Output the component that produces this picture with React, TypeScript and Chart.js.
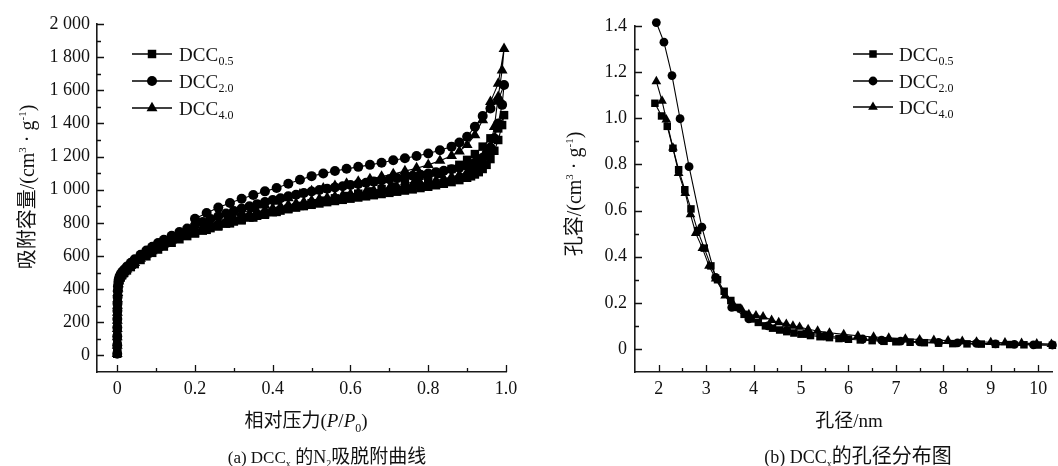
import React, { useEffect, useRef } from 'react';
import { Chart, registerables } from 'chart.js';

Chart.register(...registerables);

const FONT = '"Liberation Serif", "Noto Sans CJK SC", serif';

// ---------------- (a) N2 adsorption / desorption isotherms ----------------
const P_ADS = [0, 0.00005, 0.0001, 0.0002, 0.0003, 0.0005, 0.0007, 0.001, 0.0015, 0.002,
  0.003, 0.004, 0.006, 0.009, 0.013, 0.018, 0.025, 0.035, 0.045, 0.06,
  0.075, 0.09, 0.105, 0.12, 0.14, 0.16, 0.18, 0.2, 0.22, 0.24,
  0.26, 0.28, 0.3, 0.32, 0.34, 0.36, 0.38, 0.4, 0.42, 0.44,
  0.46, 0.48, 0.5, 0.52, 0.54, 0.56, 0.58, 0.6, 0.62, 0.64,
  0.66, 0.68, 0.7, 0.72, 0.74, 0.76, 0.78, 0.8, 0.82, 0.84,
  0.86, 0.88, 0.9, 0.91, 0.92, 0.93, 0.94, 0.95, 0.96, 0.97,
  0.98, 0.99, 0.995];
const ADS_05 = [10, 55, 100, 150, 200, 250, 295, 335, 372, 400,
  425, 442, 458, 472, 485, 498, 513, 533, 551, 576,
  598, 619, 639, 657, 680, 701, 720, 737, 753, 768,
  782, 795, 808, 820, 832, 843, 854, 864, 874, 883,
  892, 901, 909, 917, 925, 932, 939, 946, 953, 960,
  967, 974, 981, 988, 995, 1002, 1010, 1018, 1027, 1036,
  1046, 1058, 1072, 1081, 1092, 1106, 1125, 1150, 1185, 1235,
  1300, 1390, 1450];
const ADS_20 = [10, 62, 115, 168, 220, 270, 312, 352, 390, 418,
  443, 460, 476, 491, 505, 519, 536, 559, 580, 608,
  633, 656, 678, 698, 722, 745, 766, 786, 805, 823,
  840, 856, 871, 886, 900, 913, 926, 938, 949, 960,
  970, 980, 989, 998, 1006, 1014, 1021, 1028, 1035, 1042,
  1049, 1056, 1063, 1070, 1077, 1084, 1091, 1098, 1106, 1114,
  1123, 1133, 1145, 1153, 1163, 1176, 1193, 1218, 1255, 1310,
  1400, 1512, 1632];
const ADS_40 = [10, 60, 110, 160, 210, 258, 300, 340, 378, 405,
  430, 447, 463, 477, 490, 503, 519, 540, 559, 585,
  608, 630, 650, 670, 694, 716, 736, 754, 771, 787,
  802, 816, 829, 842, 854, 866, 877, 888, 898, 908,
  917, 926, 935, 943, 951, 959, 967, 974, 981, 988,
  995, 1002, 1009, 1016, 1023, 1031, 1039, 1047, 1056, 1066,
  1077, 1090, 1106, 1116, 1128, 1143, 1163, 1195, 1260, 1380,
  1560, 1720, 1850];
const P_DES = [0.98, 0.96, 0.94, 0.92, 0.9, 0.88, 0.86, 0.83, 0.8, 0.77,
  0.74, 0.71, 0.68, 0.65, 0.62, 0.59, 0.56, 0.53, 0.5, 0.47,
  0.44, 0.41, 0.38, 0.35, 0.32, 0.29, 0.26, 0.23, 0.2];
const DES_05 = [1370, 1310, 1260, 1215, 1180, 1150, 1125, 1095, 1072, 1052,
  1035, 1019, 1004, 990, 976, 962, 948, 934, 919, 902,
  884, 866, 849, 832, 815, 797, 778, 758, 737];
const DES_20 = [1540, 1490, 1445, 1380, 1320, 1285, 1260, 1238, 1218, 1203,
  1190, 1178, 1163, 1150, 1138, 1126, 1113, 1098, 1082, 1060,
  1036, 1010, 990, 968, 945, 920, 892, 860, 825];
const DES_40 = [1640, 1530, 1420, 1330, 1270, 1232, 1205, 1175, 1150, 1130,
  1112, 1095, 1080, 1065, 1050, 1037, 1023, 1008, 992, 972,
  950, 928, 906, 884, 860, 834, 808, 782, 756];
const ISO_X_TICKS = [0, 0.2, 0.4, 0.6, 0.8, 1.0];
const ISO_Y_TICKS = [0, 200, 400, 600, 800, 1000, 1200, 1400, 1600, 1800, 2000];

// ---------------- (b) pore size distribution ----------------
const PSD05_X = [1.92, 2.06, 2.18, 2.30, 2.42, 2.55, 2.68, 2.82, 2.96, 3.10,
  3.24, 3.38, 3.52, 3.66, 3.80, 3.95, 4.10, 4.25, 4.40, 4.55,
  4.70, 4.85, 5.00, 5.20, 5.40, 5.60, 5.80, 6.00, 6.25, 6.50,
  6.75, 7.00, 7.30, 7.60, 7.90, 8.20, 8.50, 8.80, 9.10, 9.40,
  9.70, 10.00, 10.30];
const PSD05_Y = [1.065, 1.01, 0.965, 0.87, 0.777, 0.69, 0.607, 0.513, 0.437, 0.36,
  0.30, 0.25, 0.21, 0.18, 0.15, 0.13, 0.115, 0.10, 0.09, 0.082,
  0.075, 0.069, 0.064, 0.058, 0.053, 0.049, 0.045, 0.042, 0.039, 0.036,
  0.033, 0.031, 0.029, 0.027, 0.025, 0.023, 0.022, 0.021, 0.02, 0.019,
  0.018, 0.017, 0.016];
const PSD20_X = [1.95, 2.11, 2.28, 2.45, 2.64, 2.91, 3.20, 3.54, 3.90, 4.30,
  4.70, 5.10, 5.50, 5.90, 6.30, 6.70, 7.10, 7.50, 7.90, 8.30,
  8.70, 9.10, 9.50, 9.90, 10.30];
const PSD20_Y = [1.415, 1.33, 1.185, 0.998, 0.79, 0.528, 0.31, 0.18, 0.13, 0.1,
  0.08, 0.066, 0.056, 0.049, 0.043, 0.038, 0.034, 0.031, 0.028, 0.026,
  0.024, 0.022, 0.02, 0.018, 0.017];
const PSD40_X = [1.95, 2.07, 2.16, 2.30, 2.42, 2.56, 2.67, 2.78, 2.92, 3.06,
  3.20, 3.40, 3.58, 3.75, 3.90, 4.05, 4.20, 4.38, 4.53, 4.69,
  4.83, 4.97, 5.15, 5.35, 5.60, 5.90, 6.20, 6.53, 6.85, 7.20,
  7.50, 7.80, 8.10, 8.40, 8.70, 9.00, 9.30, 9.65, 9.97, 10.28];
const PSD40_Y = [1.16, 1.075, 0.994, 0.872, 0.762, 0.675, 0.583, 0.502, 0.437, 0.36,
  0.304, 0.231, 0.19, 0.17, 0.15, 0.145, 0.14, 0.125, 0.115, 0.108,
  0.1, 0.095, 0.085, 0.078, 0.07, 0.063, 0.057, 0.052, 0.048, 0.044,
  0.041, 0.038, 0.036, 0.034, 0.031, 0.029, 0.027, 0.025, 0.023, 0.021];
const PSD_X_TICKS = [2, 3, 4, 5, 6, 7, 8, 9, 10];
const PSD_Y_TICKS = [0, 0.2, 0.4, 0.6, 0.8, 1.0, 1.2, 1.4];

const SERIES_LABELS = ['DCC0.5', 'DCC2.0', 'DCC4.0'];
const SERIES_STYLES = ['rect', 'circle', 'triangle'];
const RADIUS_ISO: Record<string, number> = { rect: 6, circle: 5, triangle: 6.3 };
const RADIUS_PSD: Record<string, number> = { rect: 5.3, circle: 4.4, triangle: 5.6 };

type Seg = { t: string; s: number; i?: boolean; dy?: number };

const mids = (a: number[]) => a.slice(1).map((v, k) => (v + a[k]) / 2);

function drawMarker(ctx: CanvasRenderingContext2D, style: string, r: number, x: number, y: number) {
  ctx.beginPath();
  if (style === 'rect') {
    const h = r * Math.SQRT1_2;
    ctx.rect(x - h, y - h, 2 * h, 2 * h);
  } else if (style === 'triangle') {
    ctx.moveTo(x, y - r);
    ctx.lineTo(x + r * 0.866, y + r * 0.5);
    ctx.lineTo(x - r * 0.866, y + r * 0.5);
    ctx.closePath();
  } else {
    ctx.arc(x, y, r, 0, Math.PI * 2);
  }
  ctx.fill();
}

function drawRich(ctx: CanvasRenderingContext2D, segs: Seg[], cx: number, cy: number, rotate = false) {
  ctx.save();
  ctx.translate(cx, cy);
  if (rotate) ctx.rotate(-Math.PI / 2);
  const base = Math.max(...segs.map((s) => s.s)) * 0.35;
  const fontOf = (s: Seg) => `${s.i ? 'italic ' : ''}${s.s}px ${FONT}`;
  const ws = segs.map((s) => {
    ctx.font = fontOf(s);
    return ctx.measureText(s.t).width;
  });
  let x = -ws.reduce((a, b) => a + b, 0) / 2;
  ctx.fillStyle = '#111';
  ctx.textAlign = 'left';
  ctx.textBaseline = 'alphabetic';
  segs.forEach((s, k) => {
    ctx.font = fontOf(s);
    ctx.fillText(s.t, x, base + (s.dy || 0));
    x += ws[k];
  });
  ctx.restore();
}

type Deco = {
  xMinor: number[];
  yMinor: number[];
  legend: { x1: number; x2: number; tx: number; y: number[] };
  xTitle: { segs: Seg[]; x: number; y: number };
  yTitle: { segs: Seg[]; x: number; y: number };
  caption: { segs: Seg[]; x: number; y: number };
};

function makeDeco(cfg: Deco) {
  return {
    id: 'deco',
    afterDraw(chart: any) {
      const ctx: CanvasRenderingContext2D = chart.ctx;
      const { left, bottom } = chart.chartArea;
      const xs = chart.scales.x;
      const ys = chart.scales.y;
      ctx.save();
      ctx.strokeStyle = '#111';
      ctx.lineWidth = 1.3;
      ctx.beginPath();
      xs.ticks.forEach((t: any) => {
        const p = Math.round(xs.getPixelForValue(t.value)) + 0.5;
        ctx.moveTo(p, bottom);
        ctx.lineTo(p, bottom - 7);
      });
      cfg.xMinor.forEach((v) => {
        const p = Math.round(xs.getPixelForValue(v)) + 0.5;
        ctx.moveTo(p, bottom);
        ctx.lineTo(p, bottom - 4);
      });
      ys.ticks.forEach((t: any) => {
        const p = Math.round(ys.getPixelForValue(t.value)) + 0.5;
        ctx.moveTo(left, p);
        ctx.lineTo(left + 7, p);
      });
      cfg.yMinor.forEach((v) => {
        const p = Math.round(ys.getPixelForValue(v)) + 0.5;
        ctx.moveTo(left, p);
        ctx.lineTo(left + 4, p);
      });
      ctx.stroke();

      // legend
      const L = cfg.legend;
      chart.data.datasets.forEach((d: any, k: number) => {
        const y = L.y[k];
        ctx.strokeStyle = '#000';
        ctx.lineWidth = 1.3;
        ctx.beginPath();
        ctx.moveTo(L.x1, y);
        ctx.lineTo(L.x2, y);
        ctx.stroke();
        ctx.fillStyle = '#000';
        drawMarker(ctx, d.pointStyle, d.pointRadius, (L.x1 + L.x2) / 2, y);
        const main = d.label.slice(0, 3);
        const sub = d.label.slice(3);
        ctx.fillStyle = '#111';
        ctx.textAlign = 'left';
        ctx.textBaseline = 'alphabetic';
        ctx.font = `19px ${FONT}`;
        ctx.fillText(main, L.tx, y + 6.8);
        const w = ctx.measureText(main).width;
        ctx.font = `12px ${FONT}`;
        ctx.fillText(sub, L.tx + w + 0.5, y + 11);
      });

      drawRich(ctx, cfg.xTitle.segs, cfg.xTitle.x, cfg.xTitle.y);
      drawRich(ctx, cfg.yTitle.segs, cfg.yTitle.x, cfg.yTitle.y, true);
      drawRich(ctx, cfg.caption.segs, cfg.caption.x, cfg.caption.y);
      ctx.restore();
    },
  };
}

function dataset(label: string, style: string, r: number, xs: number[], ys: number[]) {
  return {
    label,
    data: xs.map((x, i) => ({ x, y: ys[i] })),
    showLine: true,
    borderColor: '#000',
    borderWidth: 1.1,
    backgroundColor: '#000',
    pointStyle: style,
    pointRadius: r,
    pointBorderWidth: 0,
    pointBackgroundColor: '#000',
    clip: false,
    tension: 0,
  };
}

function axis(min: number, max: number, ticks: number[], fmt: (v: number) => string, size: number, horizontal: boolean, pad: number) {
  return {
    type: 'linear',
    min,
    max,
    afterBuildTicks: (s: any) => {
      s.ticks = ticks.map((v) => ({ value: v }));
    },
    afterFit: (s: any) => {
      if (horizontal) s.height = size;
      else s.width = size;
    },
    grid: { display: false, drawTicks: false },
    border: { display: true, color: '#1a1a1a', width: 1.6 },
    ticks: {
      autoSkip: false,
      maxRotation: 0,
      padding: pad,
      color: '#111',
      font: { family: FONT, size: 18 },
      callback: (v: any) => fmt(Number(v)),
    },
  };
}

const fmtThousands = (v: number) => (v >= 1000 ? `${Math.floor(v / 1000)} ${String(v % 1000).padStart(3, '0')}` : String(v));
const fmtOne = (v: number) => (v === 0 ? '0' : v.toFixed(1));
const fmtInt = (v: number) => String(v);

const SUP = (t: string): Seg => ({ t, s: 11, dy: -8 });

function buildIso() {
  const ads = [ADS_05, ADS_20, ADS_40];
  const des = [DES_05, DES_20, DES_40];
  const datasets = SERIES_LABELS.map((lab, k) =>
    dataset(lab, SERIES_STYLES[k], RADIUS_ISO[SERIES_STYLES[k]], [...P_ADS, ...P_DES], [...ads[k], ...des[k]])
  );
  const deco = makeDeco({
    xMinor: mids(ISO_X_TICKS),
    yMinor: mids(ISO_Y_TICKS),
    legend: { x1: 132, x2: 172, tx: 179, y: [54, 81, 108] },
    xTitle: {
      segs: [
        { t: '相对压力', s: 19 }, { t: '(', s: 19 }, { t: 'P', s: 19, i: true }, { t: '/', s: 19 },
        { t: 'P', s: 19, i: true }, { t: '0', s: 12, dy: 5 }, { t: ')', s: 19 },
      ],
      x: 306, y: 420,
    },
    yTitle: {
      segs: [
        { t: '吸附容量', s: 20 }, { t: '/(cm', s: 20 }, SUP('3'), { t: ' · g', s: 20 }, SUP('-1'), { t: ')', s: 20 },
      ],
      x: 27, y: 187,
    },
    caption: {
      segs: [
        { t: '(a) DCC', s: 17 }, { t: 'x', s: 10, dy: 4 }, { t: ' 的N', s: 18 }, { t: '2', s: 10, dy: 4 }, { t: '吸脱附曲线', s: 19 },
      ],
      x: 327, y: 456,
    },
  });
  return {
    type: 'scatter',
    data: { datasets },
    options: {
      responsive: false,
      devicePixelRatio: 1,
      animation: false,
      events: [],
      layout: { padding: { left: 0, top: 24, right: 23, bottom: 0 } },
      plugins: { legend: { display: false }, tooltip: { enabled: false } },
      scales: {
        x: axis(-0.052, 1.0, ISO_X_TICKS, fmtOne, 94, true, 6),
        y: axis(-100, 2000, ISO_Y_TICKS, fmtThousands, 97, false, 7),
      },
    },
    plugins: [deco],
  };
}

function buildPsd() {
  const xs = [PSD05_X, PSD20_X, PSD40_X];
  const ys = [PSD05_Y, PSD20_Y, PSD40_Y];
  const datasets = SERIES_LABELS.map((lab, k) =>
    dataset(lab, SERIES_STYLES[k], RADIUS_PSD[SERIES_STYLES[k]], xs[k], ys[k])
  );
  const deco = makeDeco({
    xMinor: mids(PSD_X_TICKS),
    yMinor: [...mids(PSD_Y_TICKS)],
    legend: { x1: 324, x2: 364, tx: 370, y: [54, 81, 107] },
    xTitle: { segs: [{ t: '孔径', s: 19 }, { t: '/nm', s: 19 }], x: 320, y: 420 },
    yTitle: {
      segs: [
        { t: '孔容', s: 20 }, { t: '/(cm', s: 20 }, SUP('3'), { t: ' · g', s: 20 }, SUP('-1'), { t: ')', s: 20 },
      ],
      x: 45, y: 194,
    },
    caption: {
      segs: [{ t: '(b) DCC', s: 18 }, { t: 'x', s: 10, dy: 4 }, { t: '的孔径分布图', s: 20 }],
      x: 329, y: 456,
    },
  });
  return {
    type: 'scatter',
    data: { datasets },
    options: {
      responsive: false,
      devicePixelRatio: 1,
      animation: false,
      events: [],
      layout: { padding: { left: 0, top: 26, right: 0, bottom: 0 } },
      plugins: { legend: { display: false }, tooltip: { enabled: false } },
      scales: {
        x: axis(1.5, 10.3, PSD_X_TICKS, fmtInt, 94, true, 6),
        y: axis(-0.1, 1.4, PSD_Y_TICKS, fmtOne, 106, false, 8),
      },
    },
    plugins: [deco],
  };
}

function ChartCanvas({ build, left }: { build: () => any; left: number }) {
  const ref = useRef<HTMLCanvasElement | null>(null);
  useEffect(() => {
    const chart = new Chart(ref.current as HTMLCanvasElement, build());
    return () => chart.destroy();
  }, []);
  return (
    <canvas
      ref={ref}
      width={529}
      height={466}
      style={{ position: 'absolute', left, top: 0, width: 529, height: 466 }}
    />
  );
}

export default function App() {
  return (
    <div style={{ position: 'absolute', left: 0, top: 0, width: 1058, height: 466, background: '#fff', overflow: 'hidden' }}>
      <ChartCanvas build={buildIso} left={0} />
      <ChartCanvas build={buildPsd} left={529} />
    </div>
  );
}
